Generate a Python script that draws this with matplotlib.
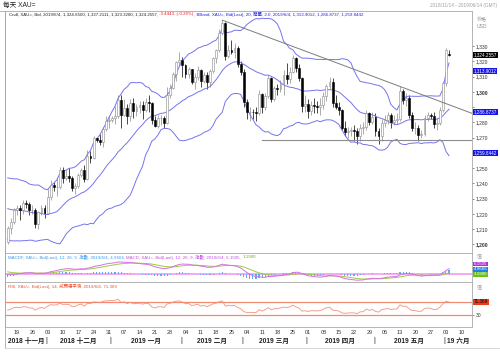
import numpy as np
import pandas as pd
import matplotlib
matplotlib.use("Agg")
import matplotlib.pyplot as plt
from matplotlib.transforms import blended_transform_factory

plt.rcParams['font.family'] = ['Liberation Sans', 'Noto Sans CJK TC', 'DejaVu Sans']

# trading days shown on the axis (data stops at 2019-06-04)
axisStart = "2018-11-14"
axisEnd = "2019-06-14"

# closes before the window, only used to warm up the indicators
closesBefore = [1201.0, 1199.0, 1203.0, 1208.0, 1199.0, 1199.0, 1201.0, 1195.0, 1182.0, 1192.0,
                1189.0, 1204.0, 1199.0, 1201.0, 1203.0, 1188.0, 1190.0, 1194.0, 1226.0, 1222.0,
                1232.0, 1226.0, 1223.0, 1227.0, 1227.0, 1222.0, 1231.0, 1231.0, 1232.0, 1234.0,
                1228.0, 1223.0, 1215.0, 1233.0, 1232.0, 1233.0, 1226.0, 1227.0, 1224.0, 1209.0,
                1201.0, 1202.0]

opens = [1201.5, 1210.5, 1214.9,
         1222.5, 1223.6, 1222.3, 1227.0, 1226.5,
         1222.3, 1222.4, 1213.5, 1220.9, 1224.0,
         1220.6, 1230.9, 1238.6, 1237.3, 1237.9,
         1248.4, 1243.7, 1244.5, 1243.8, 1236.8,
         1238.2, 1245.6, 1249.0, 1242.6, 1258.0,
         1256.8, 1269.5, 1268.5, 1267.1, 1275.6,
         1280.8, 1281.3, 1282.5, 1284.1, 1294.6,
         1285.0, 1289.4, 1283.8, 1292.8, 1287.6,
         1289.9, 1291.4, 1288.3, 1293.6, 1292.4,
         1281.6, 1277.4, 1282.6, 1282.8, 1279.6,
         1297.9, 1302.4, 1311.9, 1319.5, 1321.0,
         1317.4, 1311.6, 1314.7, 1306.5, 1309.6,
         1314.2, 1307.2, 1311.1, 1306.1, 1313.7,
         1322.4, 1327.2, 1338.7, 1345.4, 1323.6,
         1327.7, 1326.3, 1328.9, 1318.5, 1313.1,
         1293.6, 1286.6, 1287.0, 1286.6, 1285.8,
         1298.6, 1290.2, 1297.0, 1308.8, 1295.6,
         1302.3, 1302.1, 1306.0, 1311.3, 1308.7,
         1312.9, 1322.4, 1315.9, 1309.2, 1290.5,
         1292.3, 1287.3, 1291.4, 1290.8, 1289.8,
         1291.4, 1297.3, 1303.5, 1306.4, 1292.7,
         1290.1, 1288.1, 1276.5, 1273.4, 1274.3,
         1275.2, 1274.3, 1271.0, 1276.1, 1276.9,
         1285.9, 1280.0, 1283.3, 1274.5, 1270.8,
         1279.8, 1281.4, 1284.8, 1280.0, 1281.5,
         1282.0, 1300.3, 1294.5, 1296.0, 1284.5,
         1276.0, 1276.0, 1271.5, 1272.5, 1283.0,
         1284.8, 1284.0, 1278.8, 1279.4, 1287.9,
         1305.6, 1324.65]

highs = [1212.0, 1217.0, 1224.0,
         1226.0, 1226.0, 1229.0, 1229.0, 1228.0,
         1226.0, 1224.0, 1222.0, 1226.0, 1226.0,
         1236.0, 1242.0, 1241.0, 1244.0, 1250.5,
         1251.0, 1249.0, 1250.0, 1245.0, 1240.0,
         1247.0, 1250.0, 1252.0, 1262.0, 1261.0,
         1271.0, 1270.0, 1272.0, 1277.0, 1284.0,
         1284.0, 1284.0, 1291.0, 1298.0, 1298.0,
         1295.0, 1292.0, 1295.0, 1296.0, 1292.0,
         1294.0, 1294.0, 1296.0, 1298.0, 1293.0,
         1284.0, 1285.0, 1285.0, 1284.0, 1303.0,
         1305.0, 1313.0, 1320.0, 1326.0, 1323.0,
         1318.0, 1316.0, 1315.0, 1312.0, 1317.0,
         1315.0, 1313.0, 1313.0, 1315.0, 1323.0,
         1328.0, 1341.0, 1347.0, 1346.0, 1331.0,
         1334.0, 1332.0, 1330.0, 1320.0, 1315.0,
         1295.0, 1290.0, 1289.0, 1290.0, 1301.0,
         1299.0, 1299.0, 1311.0, 1310.0, 1304.0,
         1305.0, 1308.0, 1314.0, 1319.0, 1316.0,
         1324.0, 1323.0, 1318.0, 1310.0, 1298.0,
         1295.0, 1294.0, 1296.0, 1294.0, 1296.0,
         1300.0, 1305.0, 1310.0, 1309.0, 1298.0,
         1293.0, 1289.0, 1281.0, 1277.0, 1277.0,
         1278.0, 1276.0, 1279.0, 1280.0, 1288.0,
         1287.0, 1287.0, 1286.0, 1276.0, 1282.0,
         1285.0, 1287.0, 1286.0, 1285.0, 1286.0,
         1303.5, 1302.0, 1299.0, 1298.0, 1287.0,
         1280.0, 1278.0, 1275.0, 1285.0, 1287.0,
         1286.0, 1287.0, 1283.0, 1290.0, 1307.0,
         1329.0, 1327.21]

lows = [1200.5, 1207.0, 1213.0,
        1219.0, 1216.0, 1220.0, 1224.0, 1219.0,
        1220.0, 1211.0, 1210.0, 1219.0, 1217.0,
        1220.0, 1229.0, 1235.0, 1232.0, 1236.0,
        1240.0, 1242.0, 1241.0, 1235.0, 1233.0,
        1237.0, 1244.0, 1241.0, 1242.0, 1253.0,
        1256.0, 1267.0, 1265.0, 1264.0, 1274.0,
        1276.0, 1280.0, 1279.0, 1283.0, 1276.0,
        1284.0, 1279.0, 1281.0, 1283.0, 1284.0,
        1286.0, 1282.0, 1287.0, 1287.0, 1279.0,
        1277.0, 1276.0, 1278.0, 1276.0, 1279.0,
        1296.0, 1302.0, 1307.0, 1317.0, 1310.0,
        1309.0, 1309.0, 1305.0, 1302.0, 1308.0,
        1303.0, 1306.0, 1302.0, 1303.0, 1312.0,
        1319.0, 1326.0, 1337.0, 1321.0, 1322.0,
        1325.0, 1322.0, 1316.0, 1311.0, 1290.0,
        1282.0, 1281.0, 1282.0, 1281.0, 1285.0,
        1286.0, 1288.0, 1296.0, 1293.0, 1294.0,
        1298.0, 1300.0, 1298.0, 1305.0, 1306.0,
        1312.0, 1313.0, 1307.0, 1287.0, 1287.0,
        1283.0, 1285.0, 1286.0, 1286.0, 1285.0,
        1289.0, 1294.0, 1302.0, 1290.0, 1289.0,
        1285.0, 1275.0, 1271.0, 1270.0, 1271.0,
        1268.0, 1266.0, 1268.0, 1272.0, 1275.0,
        1278.0, 1279.0, 1271.0, 1266.0, 1268.0,
        1277.0, 1279.0, 1276.0, 1278.0, 1279.0,
        1281.0, 1292.0, 1291.0, 1283.0, 1274.0,
        1272.0, 1267.5, 1270.0, 1271.0, 1281.0,
        1282.0, 1276.0, 1275.0, 1278.0, 1287.0,
        1304.0, 1323.32]

closes = [1210.5, 1214.9, 1222.5,
          1223.6, 1222.3, 1227.0, 1226.5, 1222.3,
          1222.4, 1213.5, 1220.9, 1224.0, 1220.6,
          1230.9, 1238.6, 1237.3, 1237.9, 1248.4,
          1243.7, 1244.5, 1243.8, 1236.8, 1238.2,
          1245.6, 1249.0, 1242.6, 1258.0, 1256.8,
          1269.5, 1268.5, 1267.1, 1275.6, 1280.8,
          1281.3, 1282.5, 1284.1, 1294.6, 1285.0,
          1289.4, 1283.8, 1292.8, 1287.6, 1289.9,
          1291.4, 1288.3, 1293.6, 1292.4, 1281.6,
          1277.4, 1282.6, 1282.8, 1279.6, 1297.9,
          1302.4, 1311.9, 1319.5, 1321.0, 1317.4,
          1311.6, 1314.7, 1306.5, 1309.6, 1314.2,
          1307.2, 1311.1, 1306.1, 1313.7, 1322.4,
          1327.2, 1338.7, 1345.4, 1323.6, 1327.7,
          1326.3, 1328.9, 1318.5, 1313.1, 1293.6,
          1286.6, 1287.0, 1286.6, 1285.8, 1298.6,
          1290.2, 1297.0, 1308.8, 1295.6, 1302.3,
          1302.1, 1306.0, 1311.3, 1308.7, 1312.9,
          1322.4, 1315.9, 1309.2, 1290.5, 1292.3,
          1287.3, 1291.4, 1290.8, 1289.8, 1291.4,
          1297.3, 1303.5, 1306.4, 1292.7, 1290.1,
          1288.1, 1276.5, 1273.4, 1274.3, 1275.2,
          1274.3, 1271.0, 1276.1, 1276.9, 1285.9,
          1280.0, 1283.3, 1274.5, 1270.8, 1279.8,
          1281.4, 1284.8, 1280.0, 1281.5, 1282.0,
          1300.3, 1294.5, 1296.0, 1284.5, 1276.0,
          1276.0, 1271.5, 1272.5, 1283.0, 1284.8,
          1284.0, 1278.8, 1279.4, 1287.9, 1305.6,
          1327.7, 1324.26]

# last values as printed in the chart's legends
lastCandle = ["1,324.6500", "1,327.2111", "1,323.3200", "1,324.2557"]
lastChange = "-3.4443, (-0.26%)"
lastBands = [1313.9012, 1286.8737, 1259.8442]
lastMacdf = 4.9666
lastMacd = [6.1505, 1.1900]
lastRsi = 71.369

# drawn lines on the chart
trendFrom = "2019-02-20"
trendThrough = "2019-05-13"
supportFrom = "2019-03-11"
supportLevel = 1268.3

monthLabels = ["2018 十一月", "2018 十二月", "2019 一月", "2019 二月",
               "2019 三月", "2019 四月", "2019 五月", "19 六月"]

W, H = 500, 352


def figX(px):
    return px / W


def figY(py):
    return 1 - py / H


def panel(fig, top, bottom):
    return fig.add_axes([figX(5), figY(bottom), figX(472 - 5), (bottom - top) / H])


def chainText(fig, x, y, pieces, size):
    renderer = fig.canvas.get_renderer()
    for text, color in pieces:
        t = fig.text(x, y, text, color=color, fontsize=size, ha="left", va="center")
        bb = t.get_window_extent(renderer=renderer)
        x = fig.transFigure.inverted().transform((bb.x1, bb.y0))[0]


def valueBox(ax, y, text, bg, fg="white", transform=None, size=3.3):
    tr = transform if transform is not None else blended_transform_factory(ax.transAxes, ax.transData)
    ax.text(1.004, y, text, transform=tr, fontsize=size, color=fg, ha="left", va="center",
            bbox=dict(boxstyle="square,pad=0.1", fc=bg, ec="none"), clip_on=False, zorder=10)


def main():
    axisDates = pd.bdate_range(axisStart, axisEnd)
    n = len(closes)
    x = np.arange(n)
    o, h, l, c = map(np.array, (opens, highs, lows, closes))

    # indicators on the close series
    allCloses = pd.Series(closesBefore + closes)
    mid = allCloses.rolling(20).mean()
    sd = allCloses.rolling(20).std(ddof=0)
    upper = (mid + 2 * sd).to_numpy()[-n:]
    lower = (mid - 2 * sd).to_numpy()[-n:]
    mid = mid.to_numpy()[-n:]

    macd = allCloses.ewm(span=12, adjust=False).mean() - allCloses.ewm(span=26, adjust=False).mean()
    signal = macd.ewm(span=9, adjust=False).mean()
    hist = (macd - signal).to_numpy()[-n:]
    macd = macd.to_numpy()[-n:]
    signal = signal.to_numpy()[-n:]

    delta = allCloses.diff()
    gain = delta.clip(lower=0).ewm(alpha=1 / 14, adjust=False).mean()
    loss = (-delta.clip(upper=0)).ewm(alpha=1 / 14, adjust=False).mean()
    rsi = (100 - 100 / (1 + gain / loss)).to_numpy()[-n:]

    fig = plt.figure(figsize=(W / 100, H / 100), dpi=100)
    axMain = panel(fig, 10.5, 253)
    axMacd = panel(fig, 253, 282)
    axRsi = panel(fig, 282, 327)

    xlim = (-0.9, 151.5)
    for ax in (axMain, axMacd, axRsi):
        ax.set_xlim(*xlim)
        ax.set_xticks([])
        for s in ax.spines.values():
            s.set_color("#a8a8a8")
            s.set_linewidth(0.6)
        ax.yaxis.tick_right()
        ax.tick_params(axis="y", labelsize=3.6, length=1.5, width=0.4, pad=1,
                       colors="#333333")

    # ---- candles + bands
    up = c >= o
    axMain.vlines(x[up], l[up], h[up], color="#8a8a8a", lw=0.5)
    axMain.vlines(x[~up], l[~up], h[~up], color="black", lw=0.5)
    bodyH = np.maximum(np.abs(c - o), 0.3)
    axMain.bar(x[up], bodyH[up], bottom=np.minimum(o, c)[up], width=0.62,
               color="white", edgecolor="#8a8a8a", lw=0.4, zorder=3)
    axMain.bar(x[~up], bodyH[~up], bottom=np.minimum(o, c)[~up], width=0.62,
               color="black", edgecolor="black", lw=0.4, zorder=3)
    for band in (upper, mid, lower):
        axMain.plot(x, band, color="#7474f0", lw=0.7, zorder=2)

    dateIdx = {d.strftime("%Y-%m-%d"): i for i, d in enumerate(axisDates)}
    i0, i1 = dateIdx[trendFrom], dateIdx[trendThrough]
    slope = (highs[i1] - highs[i0]) / (i1 - i0)
    axMain.plot([i0, xlim[1]], [highs[i0], highs[i0] + slope * (xlim[1] - i0)],
                color="#7c7c7c", lw=0.7, zorder=4)
    axMain.plot([dateIdx[supportFrom], xlim[1]], [supportLevel, supportLevel],
                color="#8c8c8c", lw=0.8, zorder=4)

    axMain.set_ylim(1194.3, 1353.3)
    ticks = np.arange(1200, 1331, 10)
    boxed = [closes[-1]] + lastBands
    axMain.set_yticks(ticks)
    # a tick label hidden under a value box is left out, as in the source chart
    axMain.set_yticklabels([f"{t:,}" if min(abs(t - b) for b in boxed) > 3.5 else "" for t in ticks])
    for lab, t in zip(axMain.get_yticklabels(), ticks):
        if t % 100 == 0:
            lab.set_fontweight("bold")

    valueBox(axMain, closes[-1], lastCandle[-1], "black")
    for b in lastBands:
        valueBox(axMain, b, f"{b:,.4f}", "#1414e6")

    # ---- MACD
    axMacd.axhline(0, color="#f2a4f2", lw=1.3, zorder=1)
    axMacd.bar(x, hist, width=0.35, color="#5aaaf5", zorder=2)
    axMacd.plot(x, signal, color="#9acd3c", lw=0.7, zorder=3)
    axMacd.plot(x, macd, color="#d86ee8", lw=0.7, zorder=3)
    unit = np.nanmax(np.abs(macd)) / 12.0
    axMacd.set_ylim(-8 * unit, 21 * unit)
    axMacd.set_yticks([])
    tr = axMacd.transAxes
    valueBox(axMacd, 0.62, f"{lastMacd[0]:.4f}", "#b030d8", transform=tr, size=3.2)
    valueBox(axMacd, 0.44, f"{lastMacdf:.4f}", "#2080e8", transform=tr, size=3.2)
    valueBox(axMacd, 0.26, f"{lastMacd[1]:.4f}", "#66c21a", transform=tr, size=3.2)

    # ---- RSI
    axRsi.plot(x, rsi, color="#f5a08a", lw=0.7)
    axRsi.axhline(70, color="#f28a74", lw=0.9)
    axRsi.axhline(30, color="#f28a74", lw=0.9)
    axRsi.set_ylim(-7, 131.5)
    axRsi.set_yticks([30])
    axRsi.set_yticklabels(["30"])
    valueBox(axRsi, 70, f"{lastRsi:.3f}", "#ec3c1c", fg="black")

    # ---- date axis
    bt = blended_transform_factory(axRsi.transData, fig.transFigure)
    for i, d in enumerate(axisDates):
        if d.weekday() == 0 and i <= xlim[1]:
            axRsi.text(i, figY(333), f"{d.day:02d}", transform=bt, fontsize=4,
                       color="#333333", ha="center", va="center", clip_on=False)
    months = pd.Series(np.arange(len(axisDates)), index=axisDates).groupby(axisDates.to_period("M"))
    for k, (per, idx) in enumerate(months):
        start, end = idx.iloc[0] - 0.5, min(idx.iloc[-1] + 0.5, xlim[1])
        if k > 0:
            axRsi.text(start, figY(341), "|", transform=bt, fontsize=5.5, color="#222222",
                       ha="center", va="center", clip_on=False)
        if k == len(months) - 1:
            axRsi.text(start + 0.8, figY(341), monthLabels[k], transform=bt, fontsize=4.8,
                       fontweight="bold", color="#222222", ha="left", va="center", clip_on=False)
        else:
            axRsi.text((start + end) / 2, figY(341), monthLabels[k], transform=bt, fontsize=4.8,
                       fontweight="bold", color="#222222", ha="center", va="center", clip_on=False)

    # ---- frame and captions
    fig.add_artist(plt.Line2D([figX(5), figX(5)], [figY(10.5), figY(348)], color="#a8a8a8", lw=0.6))
    fig.add_artist(plt.Line2D([figX(5), figX(499)], [figY(348), figY(348)], color="#d0d0d0", lw=0.6))
    fig.add_artist(plt.Line2D([0, figX(5)], [figY(10.5), figY(10.5)], color="#a8a8a8", lw=0.6))

    fig.text(figX(3), figY(5), "每天 XAU=", fontsize=4.8, color="#222222", ha="left", va="center")
    fig.text(figX(497), figY(6), "2018/11/14 - 2019/06/14 (GMT)", fontsize=3.4,
             color="#a0a0a0", ha="right", va="center")
    fig.text(figX(477), figY(20), "价格", fontsize=3.6, color="#909090", ha="left", va="center")
    fig.text(figX(477), figY(27), "USD", fontsize=3.6, color="#909090", ha="left", va="center")
    fig.text(figX(477), figY(256), "值", fontsize=3.6, color="#a0a0a0", ha="left", va="center")
    fig.text(figX(477), figY(287), "值", fontsize=3.6, color="#a0a0a0", ha="left", va="center")

    chainText(fig, figX(9), figY(14.5), [
        ("Cndl, XAU=, Bid, 2019/6/4, " + ", ".join(lastCandle) + ", ", "#222222"),
        (lastChange, "#e02020"),
        (", BBand, XAU=, Bid(Last), 20, 簡單, 2.0, 2019/6/4, "
         + ", ".join(f"{b:,.4f}" for b in lastBands), "#2020e0"),
    ], 3.2)
    chainText(fig, figX(8), figY(257.5), [
        (f"MACDF, XAU=, Bid(Last), 12, 26, 9, 指數, 2019/6/4, {lastMacdf:.4f}, ", "#3a9af0"),
        (f"MACD, XAU=, Bid(Last), 12, 26, 9, 指數, 2019/6/4, {lastMacd[0]:.4f}, ", "#c050e0"),
        (f"{lastMacd[1]:.4f}", "#66b020"),
    ], 3.2)
    chainText(fig, figX(8), figY(286.5), [
        (f"RSI, XAU=, Bid(Last), 14, 威爾德平滑, 2019/6/4, {lastRsi:.3f}", "#f05030"),
    ], 3.2)

    fig.savefig("out.png", dpi=100)


main()
